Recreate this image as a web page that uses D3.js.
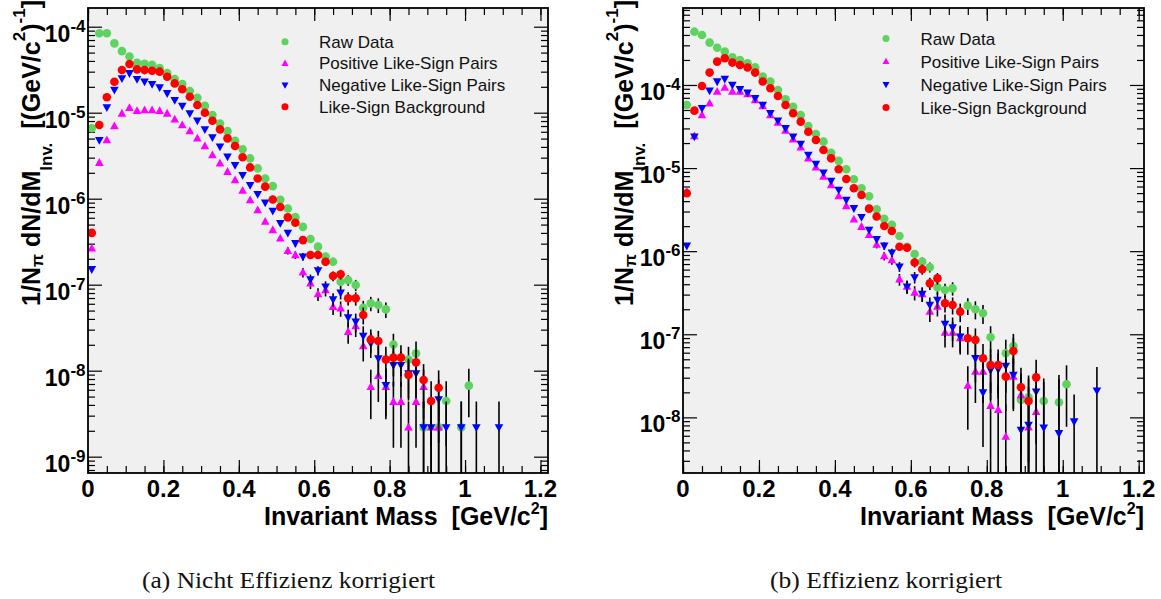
<!DOCTYPE html>
<html><head><meta charset="utf-8">
<script src="https://cdn.jsdelivr.net/npm/d3@7"></script>
<style>
body{margin:0;background:#fff}
svg{display:block}
</style>
</head><body>
<svg id="chart" width="1161" height="599"></svg>
<script>
// ---------- DATA ----------
const massBins = [0.01,0.03,0.05,0.07,0.09,0.11,0.13,0.15,0.17,0.19,0.21,0.23,0.25,0.27,0.29,0.31,0.33,0.35,0.37,0.39,0.41,0.43,0.45,0.47,0.49,0.51,0.53,0.55,0.57,0.59,0.61,0.63,0.65,0.67,0.69,0.71,0.73,0.75,0.77,0.79,0.81,0.83,0.85,0.87,0.89,0.91,0.93,0.95,0.97,0.99,1.01,1.03,1.05,1.07,1.09];

const seriesNames = ["Raw Data","Positive Like-Sign Pairs","Negative Like-Sign Pairs","Like-Sign Background"];
const xTickValues = [0,0.2,0.4,0.6,0.8,1.0,1.2];
const xTickLabels = ["0","0.2","0.4","0.6","0.8","1","1.2"];
const yTickExpA = [-9,-8,-7,-6,-5,-4];
const yTickExpB = [-8,-7,-6,-5,-4];
const captionA = "(a) Nicht Effizienz korrigiert";
const captionB = "(b) Effizienz korrigiert";

// (a) not efficiency corrected
const rawA = [6.6e-6,8.4e-5,8.4e-5,6.4e-5,5.2e-5,4.5e-5,3.8e-5,3.7e-5,3.6e-5,3.3e-5,2.9e-5,2.46e-5,2.15e-5,1.79e-5,1.49e-5,1.2e-5,9.4e-6,7.5e-6,6.1e-6,4.7e-6,3.75e-6,2.94e-6,2.25e-6,1.72e-6,1.4e-6,9.7e-7,7.7e-7,6.1e-7,4.7e-7,3.4e-7,2.77e-7,2.12e-7,1.85e-7,1.08e-7,1.13e-7,9.9e-8,5.4e-8,6.07e-8,5.81e-8,5.16e-8,2.02e-8,null,1.35e-8,1.59e-8,2.19e-9,null,2.19e-9,4.44e-9,null,2.19e-9,6.7e-9,null,null,null,null];
const posA = [2.65e-7,2.62e-6,4.8e-6,7.0e-6,9.8e-6,1.14e-5,1.05e-5,1.07e-5,1.07e-5,1.05e-5,9.8e-6,8.36e-6,7.19e-6,6.12e-6,5.03e-6,4.1e-6,3.22e-6,2.58e-6,2.06e-6,1.65e-6,1.24e-6,9.64e-7,7.38e-7,5.41e-7,4.33e-7,3.46e-7,2.48e-7,2.21e-7,1.39e-7,1.04e-7,7.79e-8,8.67e-8,5.55e-8,5.31e-8,2.84e-8,3.31e-8,1.93e-8,6.5e-9,8.7e-9,6.5e-9,4.36e-9,4.36e-9,2.19e-9,4.36e-9,6.5e-9,2.19e-9,2.19e-9,null,null,null,null,null,null,null,null];
const negA = [1.51e-7,4.8e-6,1.15e-5,1.84e-5,2.51e-5,2.87e-5,2.46e-5,2.29e-5,2.15e-5,1.97e-5,1.68e-5,1.40e-5,1.2e-5,9.8e-6,8.07e-6,6.4e-6,5.17e-6,4.03e-6,3.08e-6,2.46e-6,1.88e-6,1.44e-6,1.13e-6,8.98e-7,7.19e-7,5.2e-7,4.0e-7,3.03e-7,2.12e-7,1.15e-7,1.46e-7,9.5e-8,6.75e-8,8.07e-8,4.17e-8,3.71e-8,2.53e-8,2.08e-8,1.39e-8,6.8e-9,1.16e-8,1.16e-8,9.3e-9,9.3e-9,2.19e-9,2.19e-9,4.64e-9,2.19e-9,null,2.19e-9,null,2.19e-9,null,null,2.19e-9];
const bgA = [4.0e-7,7.2e-6,1.51e-5,2.29e-5,3.13e-5,3.68e-5,3.19e-5,3.13e-5,3.07e-5,3.0e-5,2.62e-5,2.19e-5,1.87e-5,1.53e-5,1.23e-5,1.0e-5,8.07e-6,6.4e-6,5.03e-6,4.1e-6,3.03e-6,2.31e-6,1.72e-6,1.38e-6,9.8e-7,8.0e-7,6.07e-7,5.26e-7,3.3e-7,2.21e-7,2.21e-7,1.85e-7,1.26e-7,1.32e-7,6.94e-8,6.94e-8,4.44e-8,2.31e-8,2.21e-8,1.35e-8,1.42e-8,1.42e-8,8.9e-9,1.25e-8,7.8e-9,4.44e-9,6.34e-9,null,null,null,null,null,null,null,null];

const errRawA = [0,0,0,0,0,0,0,0,0,0,0,0,0,0,0,0,0,0,0,0,0,0,0,0,0,0,0,3.66e-8,3.21e-8,2.73e-8,2.46e-8,2.15e-8,2.01e-8,1.54e-8,1.57e-8,1.47e-8,1.09e-8,1.15e-8,1.13e-8,1.06e-8,6.65e-9,0,5.44e-9,5.9e-9,2.19e-9,0,2.19e-9,3.12e-9,0,2.19e-9,3.83e-9,0,0,0,0];
const errPosA = [0,0,0,0,0,0,0,0,0,0,0,0,0,0,0,0,0,0,0,0,0,0,0,0,0,0,2.33e-8,2.2e-8,1.74e-8,1.51e-8,1.31e-8,1.38e-8,1.1e-8,1.08e-8,7.89e-9,8.51e-9,6.5e-9,3.77e-9,4.37e-9,3.77e-9,3.09e-9,3.09e-9,2.19e-9,3.09e-9,3.77e-9,2.19e-9,2.19e-9,0,0,0,0,0,0,0,0];
const errNegA = [0,0,0,0,0,0,0,0,0,0,0,0,0,0,0,0,0,0,0,0,0,0,0,0,0,0,0,2.58e-8,2.15e-8,1.59e-8,1.79e-8,1.44e-8,1.22e-8,1.33e-8,9.56e-9,9.01e-9,7.44e-9,6.75e-9,5.52e-9,3.86e-9,5.04e-9,5.04e-9,4.51e-9,4.51e-9,2.19e-9,2.19e-9,3.19e-9,2.19e-9,0,2.19e-9,0,2.19e-9,0,0,2.19e-9];
const errBgA = [0,0,0,0,0,0,0,0,0,0,0,0,0,0,0,0,0,0,0,0,0,0,0,0,0,0,0,3.39e-8,2.69e-8,2.2e-8,2.2e-8,2.01e-8,1.66e-8,1.7e-8,1.23e-8,1.23e-8,9.86e-9,7.11e-9,6.96e-9,5.44e-9,5.58e-9,5.58e-9,4.41e-9,5.23e-9,4.13e-9,3.12e-9,3.73e-9,0,0,0,0,0,0,0,0];

// (b) efficiency corrected
const rawB = [5.74e-5,4.38e-4,4.0e-4,3.23e-4,2.81e-4,2.52e-4,2.15e-4,2.0e-4,1.82e-4,1.63e-4,1.26e-4,1.1e-4,8.7e-5,6.73e-5,5.48e-5,4.35e-5,3.21e-5,2.57e-5,2.08e-5,1.53e-5,1.22e-5,9.66e-6,7.33e-6,5.71e-6,4.58e-6,3.19e-6,2.46e-6,2.07e-6,1.52e-6,1.13e-6,9.25e-7,7.48e-7,6.4e-7,3.68e-7,3.41e-7,3.57e-7,null,2.21e-7,2.0e-7,1.79e-7,9.2e-8,null,5.9e-8,7.2e-8,1.62e-8,1.74e-8,null,1.57e-8,null,1.52e-8,2.5e-8,null,null,null,null];
const posB = [5.2e-6,2.43e-5,4.35e-5,6.01e-5,8.31e-5,9.29e-5,8.31e-5,8.31e-5,7.79e-5,6.6e-5,5.58e-5,4.35e-5,3.52e-5,2.82e-5,2.22e-5,1.78e-5,1.31e-5,1.02e-5,7.88e-6,6.26e-6,4.61e-6,3.5e-6,2.42e-6,1.97e-6,1.57e-6,1.2e-6,8.75e-7,7.83e-7,4.58e-7,3.74e-7,3.17e-7,3.05e-7,1.87e-7,2.15e-7,1.05e-7,1.05e-7,9.0e-8,2.41e-8,3.56e-8,3.56e-8,1.38e-8,1.23e-8,5.87e-9,3.09e-8,1.86e-8,7.6e-9,1.17e-8,null,null,null,null,null,null,null,null];
const negB = [1.16e-6,2.39e-5,5.24e-5,8.55e-5,1.1e-4,1.18e-4,1.0e-4,8.87e-5,8.09e-5,6.91e-5,5.74e-5,4.56e-5,3.72e-5,3.01e-5,2.39e-5,1.95e-5,1.44e-5,1.12e-5,8.81e-6,7.0e-6,5.45e-6,4.13e-6,3.28e-6,2.56e-6,1.8e-6,1.39e-6,1.16e-6,9.6e-7,6.51e-7,3.74e-7,4.84e-7,3.05e-7,2.25e-7,2.59e-7,1.33e-7,1.21e-7,9.37e-8,null,5.14e-8,1.99e-8,3.72e-8,3.79e-8,4.16e-8,3.24e-8,7.05e-9,8.1e-9,2.04e-8,7.52e-9,null,6.43e-9,null,8.9e-9,null,null,2.1e-8];
const bgB = [4.97e-6,4.91e-5,9.72e-5,1.41e-4,1.91e-4,2.1e-4,1.86e-4,1.74e-4,1.62e-4,1.41e-4,1.1e-4,9.12e-5,7.38e-5,5.74e-5,4.56e-5,3.62e-5,2.74e-5,2.18e-5,1.65e-5,1.31e-5,9.66e-6,7.4e-6,5.71e-6,4.74e-6,3.25e-6,2.61e-6,2.01e-6,1.75e-6,1.13e-6,1.1e-6,7.3e-7,6.05e-7,4.1e-7,4.71e-7,2.36e-7,2.25e-7,1.87e-7,8.95e-8,8.55e-8,5.14e-8,4.27e-8,4.27e-8,3.09e-8,6.3e-8,2.3e-8,1.57e-8,3.03e-8,null,null,null,null,null,null,null,null];

const errRawB = [0,0,0,0,0,0,0,0,0,0,0,0,0,0,0,0,0,0,0,0,0,0,0,0,0,0,1.73e-7,1.58e-7,1.35e-7,1.16e-7,1.05e-7,9.5e-8,8.8e-8,6.6e-8,6.4e-8,6.5e-8,0,5.1e-8,4.9e-8,4.6e-8,3.3e-8,0,2.7e-8,2.9e-8,1.4e-8,1.45e-8,0,1.37e-8,0,1.35e-8,1.73e-8,0,0,0,0];
const errPosB = [0,0,0,0,0,0,0,0,0,0,0,0,0,0,0,0,0,0,0,0,0,0,0,0,0,1.2e-7,1.02e-7,9.7e-8,7.4e-8,6.7e-8,6.2e-8,6.0e-8,4.7e-8,5.1e-8,3.55e-8,3.55e-8,3.3e-8,1.7e-8,2.07e-8,2.07e-8,1.29e-8,1.21e-8,8.4e-9,1.9e-8,1.5e-8,9.5e-9,1.18e-8,0,0,0,0,0,0,0,0];
const errNegB = [0,0,0,0,0,0,0,0,0,0,0,0,0,0,0,0,0,0,0,0,0,0,0,0,0,0,1.18e-7,1.07e-7,8.8e-8,6.7e-8,7.6e-8,6.0e-8,5.2e-8,5.6e-8,4.0e-8,3.8e-8,3.35e-8,0,2.5e-8,1.55e-8,2.1e-8,2.1e-8,2.2e-8,1.97e-8,1.5e-8,1.5e-8,1.56e-8,1.9e-8,0,2.6e-8,0,1.0e-8,0,0,1.94e-8];
const errBgB = [0,0,0,0,0,0,0,0,0,0,0,0,0,0,0,0,0,0,0,0,0,0,0,0,0,0,0,1.45e-7,1.16e-7,1.15e-7,9.4e-8,8.5e-8,7.0e-8,7.5e-8,5.3e-8,5.2e-8,4.7e-8,3.3e-8,3.2e-8,2.5e-8,2.3e-8,2.3e-8,1.9e-8,2.75e-8,1.66e-8,1.37e-8,1.9e-8,0,0,0,0,0,0,0,0];

// ---------- STYLE / LAYOUT ----------
const SANS = "'Liberation Sans',Arial,Helvetica,sans-serif";
const SERIF = "'Liberation Serif','Times New Roman',serif";
const colors = ["#5fd35f","#ff00ff","#0000ff","#ff0000"];
const shapes = ["circle","up","down","circle"];

const panels = [
  {left:88, right:548, top:8, bottom:473, xMax:1.22, yDom:[6.46e-10,1.65e-4], exps:yTickExpA,
   series:[rawA,posA,negA,bgA], errs:[errRawA,errPosA,errNegA,errBgA],
   legX:285, legTextX:319, legY:[41.7,63.3,85,106.7], titleX:39.5, caption:captionA, capX:288.5, capW:293},
  {left:683, right:1144, top:8, bottom:473, xMax:1.214, yDom:[2.14e-9,8.44e-4], exps:yTickExpB,
   series:[rawB,posB,negB,bgB], errs:[errRawB,errPosB,errNegB,errBgB],
   legX:886, legTextX:920.5, legY:[38.5,61.5,84.5,107.5], titleX:633, caption:captionB, capX:886, capW:232}
];

const svg = d3.select("#chart");
svg.append("rect").attr("width",1161).attr("height",599).attr("fill","#fff");

function markerPath(shape, s) {
  if (shape === "up") return `M0,${-4.6*s}L${4.3*s},${3.2*s}L${-4.3*s},${3.2*s}Z`;
  if (shape === "down") return `M0,${4.6*s}L${4.3*s},${-3.2*s}L${-4.3*s},${-3.2*s}Z`;
  return null;
}

function drawMarker(g, shape, color, cx, cy, s) {
  if (shape === "circle") {
    g.append("circle").attr("cx",cx).attr("cy",cy).attr("r",4.3*s).attr("fill",color);
  } else {
    g.append("path").attr("d",markerPath(shape,s)).attr("transform",`translate(${cx},${cy})`).attr("fill",color);
  }
}

panels.forEach((p, pi) => {
  const g = svg.append("g").style("font-family", SANS);
  const x = d3.scaleLinear().domain([0,p.xMax]).range([p.left,p.right]);
  const y = d3.scaleLog().domain(p.yDom).range([p.bottom,p.top]);

  g.append("rect").attr("x",p.left).attr("y",p.top).attr("width",p.right-p.left).attr("height",p.bottom-p.top).attr("fill","#f0f0f0");

  // x axis ticks (bottom & top, pointing inward)
  const minorX = d3.range(0, p.xMax+1e-9, 0.05);
  const addAx = (axis, ty) => {
    const a = g.append("g").attr("transform",`translate(0,${ty})`).call(axis);
    a.select(".domain").remove();
    a.selectAll("line").attr("stroke","#000").attr("stroke-width",1.2);
    a.selectAll("text").remove();
  };
  addAx(d3.axisBottom(x).tickValues(xTickValues).tickSize(-13), p.bottom);
  addAx(d3.axisBottom(x).tickValues(minorX).tickSize(-7), p.bottom);
  addAx(d3.axisTop(x).tickValues(xTickValues).tickSize(-13), p.top);
  addAx(d3.axisTop(x).tickValues(minorX).tickSize(-7), p.top);

  // y axis ticks (left & right, inward)
  const majorY = p.exps.map(e => Math.pow(10,e));
  const minorY = [];
  for (let e = Math.floor(Math.log10(p.yDom[0])); e <= Math.ceil(Math.log10(p.yDom[1])); e++) {
    for (let m = 2; m <= 9; m++) {
      const v = m*Math.pow(10,e);
      if (v >= p.yDom[0] && v <= p.yDom[1]) minorY.push(v);
    }
  }
  const addAy = (axis, tx) => {
    const a = g.append("g").attr("transform",`translate(${tx},0)`).call(axis);
    a.select(".domain").remove();
    a.selectAll("line").attr("stroke","#000").attr("stroke-width",1.2);
    a.selectAll("text").remove();
  };
  addAy(d3.axisLeft(y).tickValues(majorY).tickSize(-14), p.left);
  addAy(d3.axisLeft(y).tickValues(minorY).tickSize(-7), p.left);
  addAy(d3.axisRight(y).tickValues(majorY).tickSize(-14), p.right);
  addAy(d3.axisRight(y).tickValues(minorY).tickSize(-7), p.right);

  // data
  const clipId = "clip"+pi;
  svg.append("clipPath").attr("id",clipId).append("rect")
    .attr("x",p.left).attr("y",p.top).attr("width",p.right-p.left).attr("height",p.bottom-p.top);
  const dg = g.append("g").attr("clip-path",`url(#${clipId})`);
  p.series.forEach((vals, si) => {
    const errs = p.errs[si];
    const sg = dg.append("g");
    massBins.forEach((m, i) => {
      const v = vals[i];
      if (v == null) return;
      const e = errs[i] || 0;
      if (e > 0) {
        const lo = v - e > 0 ? v - e : p.yDom[0]*0.1;
        sg.append("line").attr("x1",x(m)).attr("x2",x(m))
          .attr("y1",y(v+e)).attr("y2",y(lo))
          .attr("stroke","#000").attr("stroke-width",1.6);
      }
      drawMarker(sg, shapes[si], colors[si], x(m), y(v), 1);
    });
  });

  // frame
  g.append("rect").attr("x",p.left).attr("y",p.top).attr("width",p.right-p.left).attr("height",p.bottom-p.top)
    .attr("fill","none").attr("stroke","#000").attr("stroke-width",1.8);

  // x tick labels
  xTickValues.forEach((v,i) => {
    g.append("text").attr("x",x(v)).attr("y",496.5).attr("text-anchor","middle")
      .attr("font-size",24).attr("font-weight","bold").text(xTickLabels[i]);
  });

  // y tick labels 10^e
  p.exps.forEach(e => {
    const t = g.append("text").attr("x",p.left-2.5).attr("y",y(Math.pow(10,e))+15)
      .attr("text-anchor","end").attr("font-weight","bold");
    t.append("tspan").attr("font-size",23).text("10");
    t.append("tspan").attr("font-size",17).attr("dy",-10).text(String(e));
  });

  // x title
  const xt = g.append("text").attr("x",p.right).attr("y",524.5).attr("text-anchor","end")
    .attr("font-size",25).attr("font-weight","bold");
  xt.append("tspan").text("Invariant Mass\u00a0\u00a0[GeV/c");
  xt.append("tspan").attr("font-size",16).attr("dy",-11).text("2");
  xt.append("tspan").attr("dy",11).text("]");

  // y title
  const yt = g.append("text").attr("transform",`translate(${p.titleX},153) rotate(-90)`)
    .attr("text-anchor","middle").attr("font-size",25).attr("font-weight","bold");
  yt.append("tspan").text("1/N");
  yt.append("tspan").attr("font-size",17).attr("dy",3).text("\u03c0");
  yt.append("tspan").attr("dy",-3).text(" dN/dM");
  yt.append("tspan").attr("font-size",17).attr("dy",12).text("Inv.");
  yt.append("tspan").attr("dy",-12).text("\u00a0\u00a0[(GeV/c");
  yt.append("tspan").attr("font-size",17).attr("dy",-15).text("2");
  yt.append("tspan").attr("dy",15).text(")");
  yt.append("tspan").attr("font-size",17).attr("dy",-15).text("-1");
  yt.append("tspan").attr("dy",15).text("]");

  // legend
  seriesNames.forEach((name, si) => {
    drawMarker(g, shapes[si], colors[si], p.legX, p.legY[si], 0.82);
    g.append("text").attr("x",p.legTextX).attr("y",p.legY[si]+6)
      .attr("font-size",17).attr("fill","#111").text(name);
  });

  // caption
  svg.append("text").attr("x",p.capX).attr("y",588).attr("text-anchor","middle")
    .style("font-family", SERIF).attr("font-size",22.5)
    .attr("textLength",p.capW).attr("lengthAdjust","spacingAndGlyphs")
    .attr("fill","#111").text(p.caption);
});
</script>
</body></html>
